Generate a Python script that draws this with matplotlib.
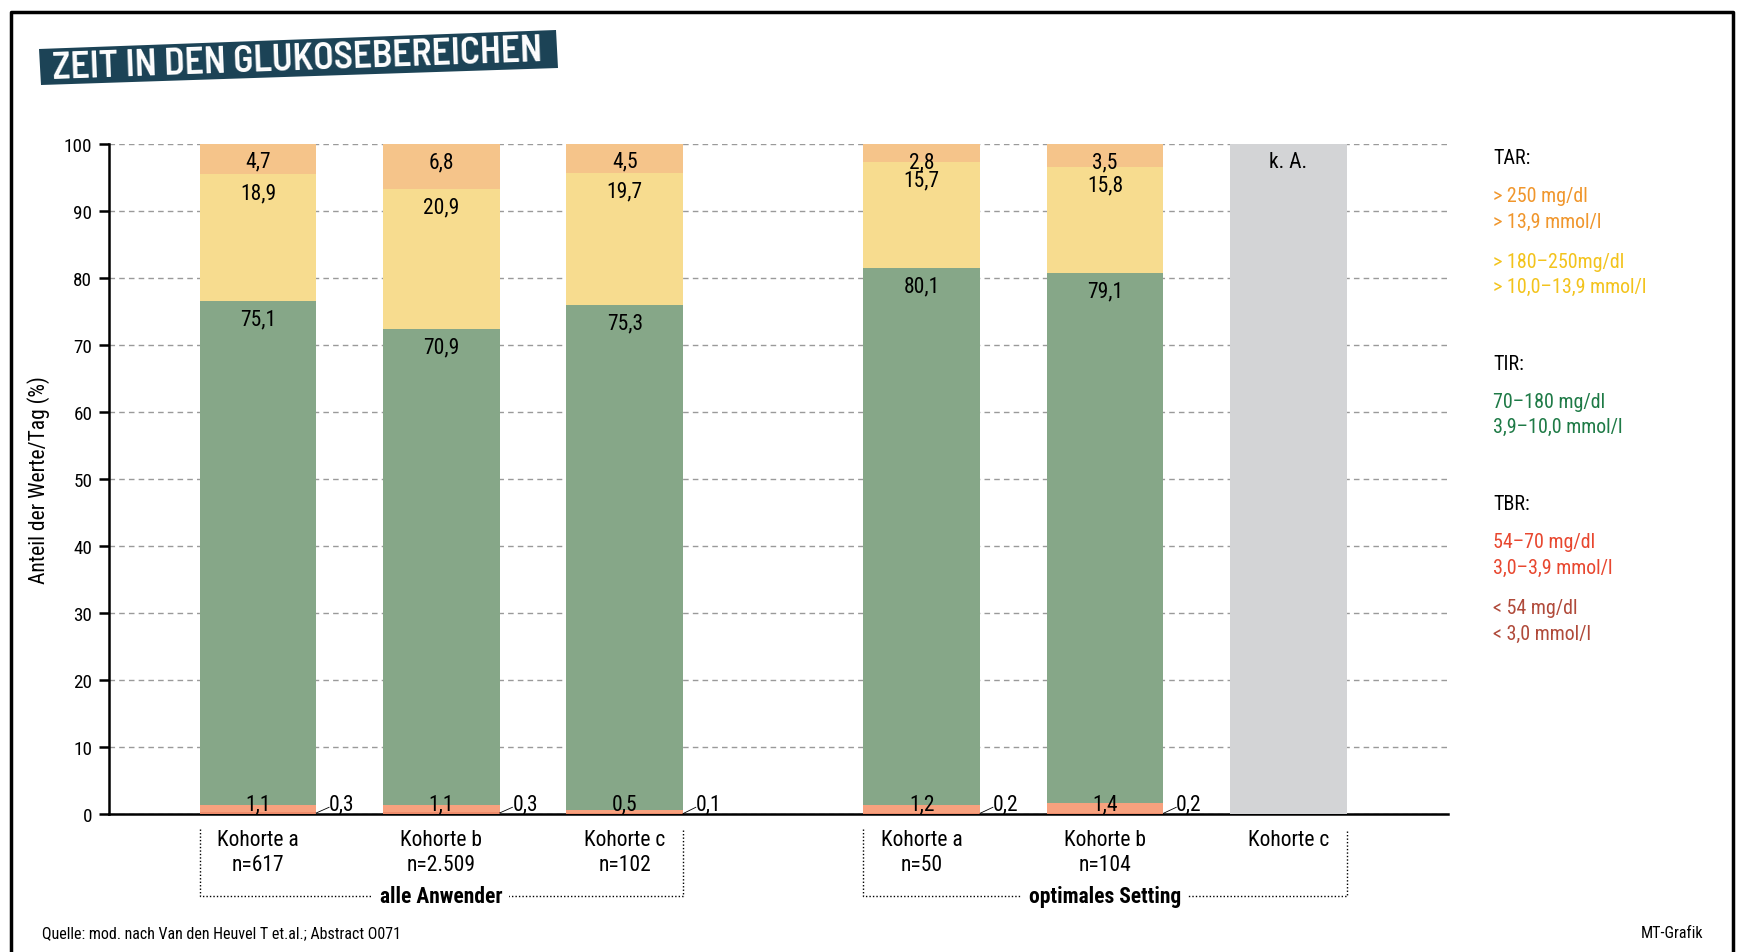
import numpy as np
import matplotlib
matplotlib.use('Agg')
from matplotlib import pyplot as plt
from matplotlib.lines import Line2D
from matplotlib.patches import Polygon

plt.rcParams['font.family'] = ['Roboto Condensed', 'DejaVu Sans']

# data
cohorts = ['Kohorte a\nn=617', 'Kohorte b\nn=2.509', 'Kohorte c\nn=102',
           'Kohorte a\nn=50', 'Kohorte b\nn=104', 'Kohorte c']
groups = ['alle Anwender', 'optimales Setting']
group_of = [0, 0, 0, 1, 1, 1]
below_54 = [0.3, 0.3, 0.1, 0.2, 0.2, np.nan]
range_54_70 = [1.1, 1.1, 0.5, 1.2, 1.4, np.nan]
range_70_180 = [75.1, 70.9, 75.3, 80.1, 79.1, np.nan]
range_180_250 = [18.9, 20.9, 19.7, 15.7, 15.8, np.nan]
above_250 = [4.7, 6.8, 4.5, 2.8, 3.5, np.nan]
no_data_label = 'k. A.'

W, H = 1743, 953
C_HIGH = '#F5C48A'
C_MID = '#F7DC8F'
C_TIR = '#86A788'
C_LOW = '#F7A17E'
C_VLOW = '#EE8C6C'
C_NA = '#D3D4D6'
FS = 15.5


def fx(x):
    return x / W


def fy(y):
    return 1 - y / H


def fmt(v):
    return ('%.1f' % v).replace('.', ',')


fig = plt.figure(figsize=(W / 100, H / 100), dpi=100)
ax = fig.add_axes([fx(109), fy(815), fx(1448 - 109), (815 - 144.5) / H])

x = np.arange(len(cohorts)) + np.array(group_of) * 0.62
width = 0.636

segments = [(below_54, C_VLOW), (range_54_70, C_LOW), (range_70_180, C_TIR),
            (range_180_250, C_MID), (above_250, C_HIGH)]
bottom = np.zeros(len(cohorts))
for vals, col in segments:
    v = np.nan_to_num(np.array(vals, dtype=float))
    ax.bar(x, v, width, bottom=bottom, color=col, zorder=3)
    # labels for the big segments sit just under the segment top
    if vals in (range_70_180, range_180_250, above_250):
        for xi, b, vi in zip(x, bottom, vals):
            if not np.isnan(vi):
                ax.annotate(fmt(vi), (xi, b + vi), xytext=(0, -5.5),
                            textcoords='offset points', ha='center', va='top',
                            fontsize=FS, zorder=5, annotation_clip=False)
    bottom = bottom + v

# missing cohort
for xi, vi in zip(x, range_70_180):
    if np.isnan(vi):
        ax.bar(xi, 100, width, color=C_NA, zorder=3)
        ax.annotate(no_data_label, (xi, 100), xytext=(0, -5.5),
                    textcoords='offset points', ha='center', va='top',
                    fontsize=FS, zorder=5, annotation_clip=False)

# small TBR labels at the bottom
for xi, lo, vlo in zip(x, range_54_70, below_54):
    if np.isnan(lo):
        continue
    ax.text(xi, 1.5, fmt(lo), ha='center', va='center', fontsize=FS, zorder=5)
    r = xi + width / 2
    ax.plot([r, r + 0.07], [vlo / 2, 1.0], color='black', lw=0.6, zorder=5,
            clip_on=False)
    ax.text(r + 0.07, 1.5, fmt(vlo), ha='left', va='center', fontsize=FS,
            zorder=5)

ax.set_xlim(-0.812, 6.49)
ax.set_ylim(0, 100)
ax.set_yticks(np.arange(0, 101, 10))
ax.yaxis.grid(True, linestyle=(0, (4, 3)), color='#9A9A9A', lw=1, zorder=0)
ax.tick_params(axis='y', length=7, width=1.8, labelsize=13.8, pad=5)
ax.set_xticks(x)
ax.set_xticklabels(cohorts, fontsize=15.5, linespacing=1.25)
ax.tick_params(axis='x', length=0, pad=11)
for s in ['top', 'right']:
    ax.spines[s].set_visible(False)
ax.spines['left'].set_linewidth(1.8)
ax.spines['bottom'].set_linewidth(1.8)
ax.set_ylabel('Anteil der Werte/Tag (%)', fontsize=15.5)
ax.yaxis.set_label_coords(-0.044, 0.5)

# group brackets
for g, name in enumerate(groups):
    xs = [xi for xi, gi in zip(x, group_of) if gi == g]
    left, right = xs[0] - width / 2, xs[-1] + width / 2
    ax.plot([left, left, right, right], [-2.2, -12.3, -12.3, -2.2], color='black',
            lw=1, linestyle=(0, (1, 1.5)), clip_on=False)
    ax.text((left + right) / 2, -12.3, name, ha='center', va='center',
            fontsize=15.5, fontweight='bold', clip_on=False,
            bbox=dict(facecolor='white', edgecolor='none', pad=5))

# legend
legend = [
    ('TAR:', 'black', 158), ('> 250 mg/dl', '#F0962C', 197),
    ('> 13,9 mmol/l', '#F0962C', 222), ('> 180–250mg/dl', '#F3C31C', 262),
    ('> 10,0–13,9 mmol/l', '#F3C31C', 287), ('TIR:', 'black', 364),
    ('70–180 mg/dl', '#1E7A46', 402), ('3,9–10,0 mmol/l', '#1E7A46', 427),
    ('TBR:', 'black', 505), ('54–70 mg/dl', '#E8472F', 543),
    ('3,0–3,9 mmol/l', '#E8472F', 568), ('< 54 mg/dl', '#B04A3A', 608),
    ('< 3,0 mmol/l', '#B04A3A', 634),
]
for txt, col, yy in legend:
    fig.text(fx(1493), fy(yy), txt, color=col, fontsize=14.4, va='center')

# title banner
box = [(39, 50), (556, 31), (558, 69), (41, 86)]
fig.add_artist(Polygon([(fx(a), fy(b)) for a, b in box], closed=True,
                       facecolor='#1C4356', edgecolor='none',
                       transform=fig.transFigure))
fig.text(fx(297), fy(60), 'ZEIT IN DEN GLUKOSEBEREICHEN', color='white',
         fontsize=27, fontweight='semibold',
         family=['Barlow Semi Condensed', 'DejaVu Sans'],
         rotation=2.1, rotation_mode='anchor', ha='center', va='center')

fig.text(fx(42), fy(934), 'Quelle: mod. nach Van den Heuvel T et.al.; Abstract O071',
         fontsize=11.5, va='center')
fig.text(fx(1703), fy(934), 'MT-Grafik', fontsize=11.5, va='center', ha='right')

# frame
fig.add_artist(Line2D([fx(11), fx(11), fx(1733), fx(1733)],
                      [0, fy(13), fy(13), 0], color='black', lw=2.5))

fig.savefig('out.png', dpi=100)
plt.close(fig)
